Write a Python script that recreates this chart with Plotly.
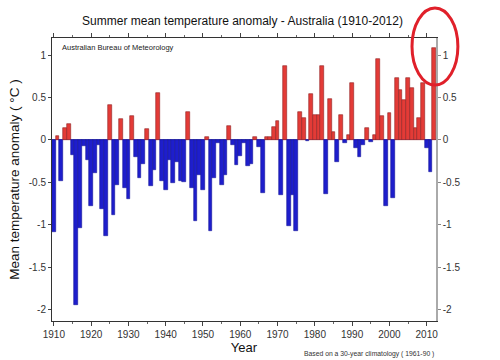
import plotly.graph_objects as go

years = list(range(1910, 2013))
anomaly = [
    -1.09, 0.05, -0.49, 0.14, 0.19, -0.18, -1.95, -1.04, -0.07, -0.24,   # 1910-1919
    -0.78, -0.39, -0.06, -0.81, -1.13, 0.41, -0.89, -0.53, 0.25, -0.57,  # 1920-1929
    -0.70, 0.28, -0.20, -0.45, -0.28, 0.13, -0.54, -0.36, 0.56, -0.49,   # 1930-1939
    -0.59, -0.24, -0.51, -0.26, -0.49, -0.50, 0.33, -0.57, -0.96, -0.41, # 1940-1949
    -0.59, 0.03, -1.07, -0.45, -0.03, -0.53, -0.41, 0.17, -0.06, -0.30,  # 1950-1959
    -0.19, -0.04, -0.31, -0.28, 0.03, -0.08, -0.63, 0.04, 0.03, 0.15,    # 1960-1969
    0.22, -0.65, 0.87, -1.02, -0.65, -1.07, 0.33, 0.26, -0.01, 0.54,     # 1970-1979
    0.30, 0.30, 0.87, -0.64, 0.48, 0.09, -0.26, 0.29, -0.03, 0.06,       # 1980-1989
    0.67, -0.10, -0.20, -0.06, 0.14, -0.02, 0.06, 0.96, 0.28, -0.78,     # 1990-1999
    0.32, -0.69, 0.73, 0.59, 0.47, 0.73, 0.61, 0.14, 0.26, 0.67,         # 2000-2009
    -0.10, -0.38, 1.09,                                                  # 2010-2012
]
ytick_vals = [1, 0.5, 0, -0.5, -1, -1.5, -2]
ytick_text = ["1", "0.5", "0", "-0.5", "-1", "-1.5", "-2"]
xtick_vals = list(range(1910, 2011, 10))

RED = "#E33B37"
RED_EDGE = "#8E2222"
BLUE = "#1E1ECC"
BLUE_EDGE = "#14149A"

fill = [RED if v >= 0 else BLUE for v in anomaly]
edge = [RED_EDGE if v >= 0 else BLUE_EDGE for v in anomaly]

font = "Liberation Sans, Arial, sans-serif"
tickfont = dict(size=10, color="#333", family=font)

fig = go.Figure()
fig.add_trace(go.Bar(x=years, y=anomaly, marker=dict(color=fill, line=dict(color=edge, width=0.6)),
                     width=1.0, showlegend=False))
# invisible trace so the right-hand axis is drawn
fig.add_trace(go.Scatter(x=years, y=anomaly, yaxis="y2", mode="markers",
                         marker=dict(opacity=0), hoverinfo="skip", showlegend=False))

yr = [-2.137, 1.204]
fig.update_layout(
    width=500, height=360,
    margin=dict(l=52, r=64, t=38, b=39, autoexpand=False),
    paper_bgcolor="white", plot_bgcolor="white",
    bargap=0,
    font=dict(family=font, color="#222"),
    title=dict(text="Summer mean temperature anomaly - Australia (1910-2012)",
               x=0.485, xanchor="center", y=0.942, yanchor="middle",
               font=dict(size=12, color="#111", family=font)),
    xaxis=dict(range=[1909.5, 2012.5], tickvals=xtick_vals, ticks="outside", ticklen=4,
               tickcolor="#444", showline=True, linecolor="#333", linewidth=1, mirror="ticks",
               showgrid=False, zeroline=False, tickfont=tickfont, automargin=False,
               minor=dict(dtick=5, tick0=1910, ticks="outside", ticklen=2, tickcolor="#666"),
               title=dict(text="Year", font=dict(size=13, color="#111", family=font), standoff=1)),
    yaxis=dict(range=yr, tickvals=ytick_vals, ticktext=ytick_text, ticks="outside", ticklen=3,
               tickcolor="#444", showline=True, linecolor="#333", linewidth=1,
               showgrid=False, zeroline=True, zerolinecolor="#5A5AB0", zerolinewidth=1,
               tickfont=tickfont, automargin=False,
               title=dict(text="Mean temperature anomaly ( °C )",
                          font=dict(size=13.5, color="#111", family=font), standoff=6)),
    yaxis2=dict(range=yr, overlaying="y", side="right", tickvals=ytick_vals, ticktext=ytick_text,
                ticks="outside", ticklen=3, tickcolor="#888", showline=True, linecolor="#AAAAAA",
                linewidth=1.5, showgrid=False, zeroline=False, automargin=False,
                tickfont=tickfont),
)

fig.add_annotation(text="Australian Bureau of Meteorology", xref="paper", yref="paper",
                   x=0.022, y=0.99, xanchor="left", yanchor="top", showarrow=False,
                   font=dict(size=7.5, color="#222", family=font))
fig.add_annotation(text="Based on a 30-year climatology ( 1961-90 )", xref="paper", yref="paper",
                   x=1.0, y=-0.095, xanchor="right", yanchor="top", showarrow=False,
                   font=dict(size=6.8, color="#333", family=font))
fig.add_shape(type="circle", xref="paper", yref="paper",
              x0=0.9375, x1=1.057, y0=0.834, y1=1.106,
              line=dict(color="#E0202A", width=3))

fig.write_html("out.html", config={"displayModeBar": False},
               post_script="document.body.style.margin='0';")
